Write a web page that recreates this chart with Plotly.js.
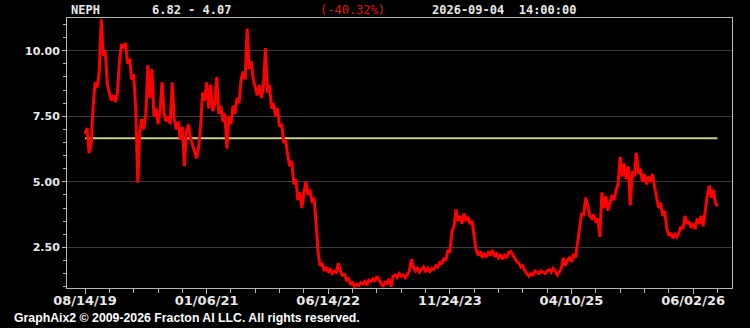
<!DOCTYPE html>
<html><head><meta charset="utf-8">
<script src="https://cdn.plot.ly/plotly-3.0.1.min.js"></script>
<style>html,body{margin:0;padding:0;background:#000;}#chart{width:750px;height:328px;}</style>
</head><body><div id="chart"></div>
<script>
// Price series (one value per bar index)
const prices = [
6.82,7.05,6.10,6.40,7.90,8.80,8.60,9.20,11.20,9.80,10.00,8.70,8.40,8.10,8.30,8.05,8.40,9.60,10.25,10.10,
10.30,9.50,9.70,8.90,9.10,7.80,4.97,6.90,7.40,7.00,7.60,9.45,8.20,9.30,7.50,7.80,7.20,7.70,8.80,7.60,
7.30,7.50,7.20,8.80,7.40,7.00,7.30,6.60,7.10,5.60,6.90,7.20,6.70,6.40,6.10,5.90,6.30,7.10,8.40,8.10,
8.80,7.80,8.70,7.70,8.00,9.00,7.60,7.90,7.30,7.60,6.27,7.50,7.20,7.90,7.60,8.20,8.00,8.90,9.20,8.90,
10.85,9.30,9.60,8.90,8.60,8.30,8.70,8.20,8.60,10.10,8.40,8.70,7.80,8.00,7.50,7.80,7.10,7.20,6.50,6.60,
6.00,5.60,5.80,4.90,5.10,4.30,4.60,4.00,4.60,5.00,4.50,4.70,4.20,4.40,3.40,2.30,1.80,1.90,1.60,1.75,
1.55,1.65,1.50,1.60,1.55,1.90,1.60,1.40,1.50,1.25,1.30,1.10,1.15,1.00,1.10,1.05,1.15,1.10,1.20,1.05,
1.25,1.20,1.30,1.20,1.40,1.25,1.15,1.00,1.20,1.10,1.30,1.00,1.40,1.45,1.35,1.50,1.40,1.45,1.35,1.50,
1.60,2.05,1.75,1.60,1.70,1.55,1.65,1.75,1.60,1.70,1.55,1.70,1.65,1.80,1.75,1.95,1.85,2.10,2.00,2.40,
2.30,3.10,3.30,3.95,3.50,3.70,3.40,3.80,3.50,3.65,3.40,3.50,2.90,2.40,2.20,2.35,2.10,2.25,2.15,2.30,
2.20,2.40,2.15,2.25,2.10,2.20,2.05,2.20,2.10,2.30,2.35,2.20,2.10,1.95,1.90,1.75,1.80,1.60,1.50,1.40,
1.50,1.45,1.60,1.55,1.50,1.60,1.55,1.50,1.60,1.65,1.55,1.70,1.60,1.45,1.55,1.70,2.10,1.80,2.00,2.10,
1.95,2.25,2.10,2.70,3.20,3.80,3.70,4.40,4.10,3.70,3.60,3.75,3.45,3.60,2.90,4.60,4.00,4.45,3.90,4.20,
4.50,4.30,4.70,4.90,5.95,5.20,5.70,5.10,5.60,4.10,5.40,5.20,6.10,5.30,5.50,5.00,5.30,4.90,5.20,5.00,
5.30,4.80,4.40,4.00,4.20,3.70,3.90,3.20,2.95,3.05,2.85,3.00,2.90,3.05,3.30,3.20,3.70,3.40,3.50,3.25,
3.40,3.20,3.60,3.40,3.70,3.30,3.90,4.50,4.85,4.40,4.70,4.20,4.07
];
const refLevel = 6.66;
const tickIndex = [0, 60, 120, 180, 240, 300];
const tickLabels = ["08/14/19", "01/06/21", "06/14/22", "11/24/23", "04/10/25", "06/02/26"];
const symbol = "NEPH";
const rangeText = "6.82 - 4.07";
const changeText = "(-40.32%)";
const stampText = "2026-09-04  14:00:00";
const footerText = "GraphAix2 \u00A9 2009-2026 Fracton AI LLC. All rights reserved.";

const idx = prices.map((_, i) => i);
const minorTicks = [];
for (let i = 0; i < prices.length; i += 12) minorTicks.push(i);

const traces = [
  {x: [idx[0], idx[idx.length-1]], y: [refLevel, refLevel], mode: 'lines',
   line: {color: '#c9cc8e', width: 2}, hoverinfo: 'skip'},
  {x: idx, y: prices, mode: 'lines', line: {color: '#ff0000', width: 3}, hoverinfo: 'skip'}
];

const hdrFont = {family: 'DejaVu Sans Mono', size: 12, color: '#e8e8e8', weight: 'bold'};
const layout = {
  width: 750, height: 328,
  margin: {l: 67, r: 18, t: 18, b: 40},
  paper_bgcolor: '#000', plot_bgcolor: '#000',
  showlegend: false,
  xaxis: {
    range: [-8.9, 319.2], showgrid: false, zeroline: false,
    showline: true, mirror: true, linecolor: '#b8b8b8', linewidth: 1,
    tickmode: 'array', tickvals: tickIndex, ticktext: tickLabels,
    ticks: 'outside', ticklen: 5, tickcolor: '#b8b8b8', ticklabelstandoff: -5,
    tickfont: {family: 'DejaVu Sans', size: 13, color: '#e8e8e8', weight: 'bold', stretch: 'condensed'},
    minor: {tickvals: minorTicks, ticks: 'outside', ticklen: 4, tickcolor: '#b8b8b8', showgrid: false}
  },
  yaxis: {
    range: [0.95, 11.25], zeroline: false,
    showline: true, mirror: true, linecolor: '#b8b8b8', linewidth: 1,
    tickmode: 'linear', tick0: 0, dtick: 2.5, tickformat: '.2f',
    showgrid: true, gridcolor: '#3a3a3a', gridwidth: 1,
    ticks: 'outside', ticklen: 4, tickcolor: '#b8b8b8',
    tickfont: {family: 'DejaVu Sans', size: 11, color: '#e8e8e8', weight: 'bold'},
    minor: {dtick: 0.5, ticks: 'outside', ticklen: 3, tickcolor: '#b8b8b8', showgrid: false}
  },
  annotations: [
    {text: symbol, xref: 'paper', yref: 'paper', x: 0.003, y: 1.028, xanchor: 'left', yanchor: 'middle', showarrow: false, font: hdrFont},
    {text: rangeText, xref: 'paper', yref: 'paper', x: 0.1248, y: 1.028, xanchor: 'left', yanchor: 'middle', showarrow: false, font: hdrFont},
    {text: changeText, xref: 'paper', yref: 'paper', x: 0.3774, y: 1.028, xanchor: 'left', yanchor: 'middle', showarrow: false, font: Object.assign({}, hdrFont, {color: '#e01818', weight: 'normal'})},
    {text: stampText, xref: 'paper', yref: 'paper', x: 0.5459, y: 1.028, xanchor: 'left', yanchor: 'middle', showarrow: false, font: hdrFont},
    {text: footerText, xref: 'paper', yref: 'paper', x: -0.0827, y: -0.11, xanchor: 'left', yanchor: 'middle', showarrow: false,
     font: {family: 'Liberation Sans', size: 12.3, color: '#ffffff', weight: 'bold'}}
  ]
};
Plotly.newPlot('chart', traces, layout, {staticPlot: true, displayModeBar: false});
</script>
</body></html>
